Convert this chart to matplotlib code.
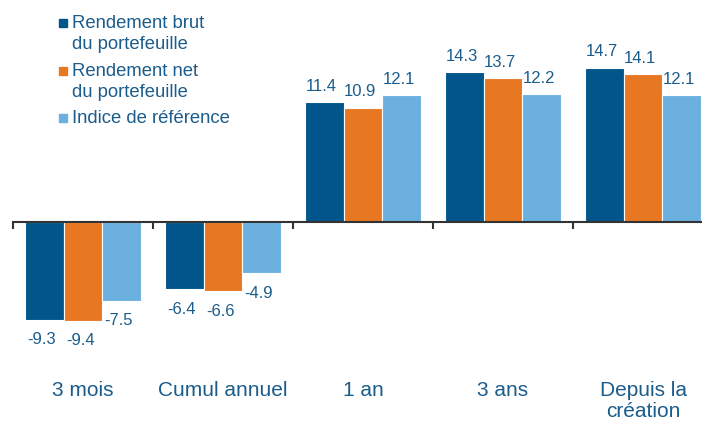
import matplotlib.pyplot as plt
import matplotlib.patches as mpatches
import numpy as np

plt.rcParams['font.family'] = ['Liberation Sans', 'DejaVu Sans']

# Data
categories = ["3 mois", "Cumul annuel", "1 an", "3 ans", "Depuis la\ncréation"]
series_names = ["Rendement brut\ndu portefeuille", "Rendement net\ndu portefeuille", "Indice de référence"]
brut = [-9.3, -6.4, 11.4, 14.3, 14.7]
net = [-9.4, -6.6, 10.9, 13.7, 14.1]
indice = [-7.5, -4.9, 12.1, 12.2, 12.1]

colors = ["#00558A", "#E87722", "#6CB0E0"]
text_color = "#1A5C8C"

W, H = 702, 422
fig = plt.figure(figsize=(W / 100, H / 100), dpi=100)
# axes spans x 13..713 px (last group is cut off by the figure edge)
ax = fig.add_axes([13 / W, 0, 700 / W, 1])

zero_px = 222
px_per_unit = 10.5
ax.set_ylim(-(H - zero_px) / px_per_unit, zero_px / px_per_unit)
ax.set_xlim(-0.5, len(categories) - 0.5)

x = np.arange(len(categories))
bw = 0.275
for i, (vals, col) in enumerate(zip([brut, net, indice], colors)):
    pos = x + (i - 1) * bw
    ax.bar(pos, vals, width=bw, color=col, edgecolor="white", linewidth=0.8, zorder=2)
    for xp, v in zip(pos, vals):
        off = 6 if v >= 0 else -9
        ax.annotate(f"{v:.1f}", (xp - 0.02, v), xytext=(0, off), textcoords="offset points",
                    ha="center", va="bottom" if v >= 0 else "top",
                    fontsize=12, color=text_color)

# category labels at the bottom
for xp, lab in zip(x, categories):
    ax.text(xp, -(381 - zero_px) / px_per_unit, lab, ha="center", va="top",
            fontsize=15, color=text_color, linespacing=1.12)

# axis line at zero with ticks between groups
for s in ["left", "right", "top"]:
    ax.spines[s].set_visible(False)
ax.spines["bottom"].set_position(("data", 0))
ax.spines["bottom"].set_color("#333333")
ax.spines["bottom"].set_linewidth(1.5)
ax.spines["bottom"].set_zorder(3)
ax.set_xticks(np.arange(-0.5, len(categories), 1.0))
ax.set_xticklabels([])
ax.tick_params(axis="x", direction="out", length=5, width=1.5, color="#333333")
ax.set_yticks([])
ax.patch.set_visible(False)

# legend drawn by hand: square aligned with first line
leg_y = [23, 71, 118]
for yp, name, col in zip(leg_y, series_names, colors):
    fig.patches.append(mpatches.Rectangle((59 / W, 1 - (yp + 4) / H), 8 / W, 8 / H,
                                          transform=fig.transFigure, color=col))
    fig.text(72 / W, 1 - (yp - 8) / H, name, ha="left", va="top", fontsize=13.3,
             color=text_color, linespacing=1.33)

fig.savefig("out.png", dpi=100)
